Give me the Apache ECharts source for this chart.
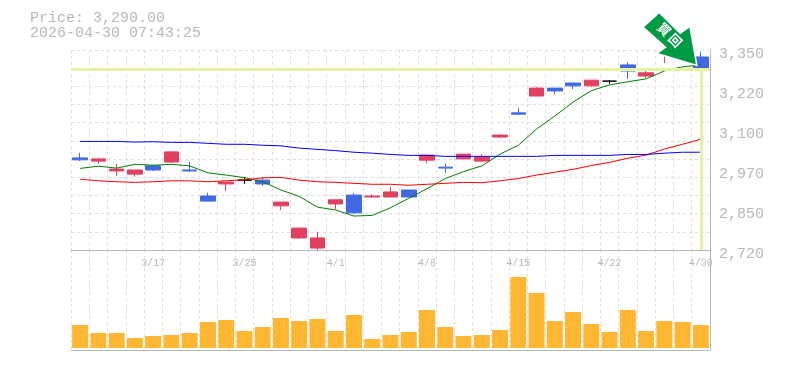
<!DOCTYPE html>
<html><head><meta charset="utf-8">
<style>html,body{margin:0;padding:0;background:#fff}#c{width:785px;height:370px}</style>
<script src="https://cdn.jsdelivr.net/npm/echarts@6/dist/echarts.min.js"></script></head>
<body><div id="c"></div><script>
const dates=["3/11","3/12","3/13","3/16","3/17","3/18","3/19","3/23","3/24","3/25","3/26","3/27","3/30","3/31","4/1","4/2","4/3","4/6","4/7","4/8","4/9","4/10","4/13","4/14","4/15","4/16","4/17","4/20","4/21","4/22","4/23","4/24","4/27","4/28","4/30"];
const labelledDates=["3/17","3/25","4/1","4/8","4/15","4/22","4/30"];
const priceTicks=["2,720","2,850","2,970","3,100","3,220","3,350"];
const candles=[[3010,3004,3000,3026],[3000,3007,2992,3010],[2969,2975,2954,2991],[2959,2972,2951,2972],[2985,2972,2969,2988],[2997,3029,2997,3029],[2972,2969,2966,2997],[2890,2874,2874,2900],[2928,2934,2906,2934],[2940,2940,2928,2950],[2940,2928,2922,2950],[2859,2871,2846,2871],[2758,2789,2755,2789],[2726,2758,2720,2777],[2865,2878,2849,2878],[2893,2837,2833,2900],[2887,2890,2884,2896],[2887,2903,2887,2918],[2909,2887,2887,2909],[3003,3019,2994,3019],[2981,2978,2963,2991],[3007,3022,3007,3022],[3000,3013,2997,3022],[3076,3082,3073,3085],[3152,3148,3145,3167],[3205,3230,3205,3233],[3230,3221,3211,3230],[3246,3237,3227,3246],[3237,3255,3233,3255],[3252,3252,3243,3255],[3303,3284,3259,3312],[3268,3278,3262,3287],[3338,3341,3309,3347],[3325,3344,3320,3350],[3328,3290,3285,3345]];
const maShort=[2977,2984,2978,2990,2987,2990,2985,2963,2956,2948,2935,2909,2889,2855,2846,2827,2829,2853,2883,2913,2945,2967,2985,3022,3050,3101,3142,3186,3222,3240,3250,3259,3284,3297,3303];
const maMid=[2943,2938,2935,2933,2935,2938,2938,2935,2938,2941,2947,2949,2940,2935,2933,2930,2927,2927,2924,2927,2930,2933,2932,2938,2945,2956,2965,2974,2986,2996,3009,3019,3038,3053,3069];
const maLong=[3062,3062,3062,3060,3061,3059,3059,3056,3053,3053,3050,3048,3041,3037,3033,3028,3025,3021,3018,3018,3015,3015,3015,3015,3015,3015,3018,3018,3018,3018,3021,3021,3025,3028,3028];
const volume=[23,15,15,10,12,13,15,26,28,17,21,30,27,29,17,33,9,13,16,38,21,12,13,18,71,55,27,36,24,16,38,17,27,26,23];
const lastPrice=3290;
const lastIndex=dates.length-1;
const priceMin=2720,priceMax=3350;
const grey='#b8b8b8',gridC='#dddddd',mono='"Liberation Mono",monospace';
const split={show:true,lineStyle:{color:gridC,type:[3,3],width:1}};
const arrow='path://M660 14 L644.3 28 L666 47.3 L657.7 53.3 L696 65 L689.3 27.3 L680 34 Z';
const lineS=(name,data,color)=>({name,type:'line',data,xAxisIndex:0,yAxisIndex:0,symbol:'none',smooth:false,animation:false,z:3,lineStyle:{color,width:1},itemStyle:{color}});
const chart=echarts.init(document.getElementById('c'),null,{renderer:'canvas'});
chart.setOption({
 animation:false,backgroundColor:'#fff',
 title:{text:'Price: 3,290.00\n2026-04-30 07:43:25',left:25,top:6,textStyle:{fontFamily:mono,fontSize:15,fontWeight:'normal',color:grey,lineHeight:15}},
 grid:[{left:71,top:50,width:639,height:200},{left:71,top:250,width:639,height:100}],
 xAxis:[
  {type:'category',gridIndex:0,data:dates,boundaryGap:true,axisTick:{show:false},axisLine:{onZero:false,lineStyle:{color:grey,width:1}},splitLine:Object.assign({interval:0},split),
   axisLabel:{interval:(i,v)=>labelledDates.includes(v),fontFamily:mono,fontSize:10,color:grey,margin:8,hideOverlap:false}},
  {type:'category',gridIndex:1,data:dates,boundaryGap:true,axisTick:{show:false},axisLabel:{show:false},axisLine:{onZero:false,lineStyle:{color:grey,width:1}},splitLine:Object.assign({interval:0},split)}
 ],
 yAxis:[
  {type:'value',gridIndex:0,min:priceMin,max:priceMax,show:false,splitLine:{show:false}},
  {type:'value',gridIndex:0,min:0,max:11,interval:1,axisLine:{show:false},axisTick:{show:false},axisLabel:{show:false},splitLine:split},
  {type:'category',gridIndex:0,position:'right',data:priceTicks,boundaryGap:false,axisTick:{show:false},axisLine:{show:true,lineStyle:{color:grey,width:1}},splitLine:{show:false},
   axisLabel:{fontFamily:mono,fontSize:15,color:grey,margin:9,verticalAlign:'top',lineHeight:8,interval:0}},
  {type:'value',gridIndex:1,min:-2,max:98,position:'right',axisTick:{show:false},axisLabel:{show:false},splitLine:{show:false},axisLine:{show:true,lineStyle:{color:grey,width:1}}}
 ],
 series:[
  {name:'guide',type:'line',data:[],xAxisIndex:0,yAxisIndex:0,z:1,silent:true,
   markLine:{silent:true,symbol:'none',label:{show:false},animation:false,lineStyle:{color:'#e2f3a4',width:3,type:'solid'},
    data:[{yAxis:lastPrice},[{coord:[lastIndex,lastPrice]},{coord:[lastIndex,priceMin]}]]}},
  {name:'price',type:'candlestick',data:candles,xAxisIndex:0,yAxisIndex:0,barWidth:15,z:2,
   itemStyle:{color:'#e24060',borderColor:'#e24060',color0:'#4169e1',borderColor0:'#4169e1',borderColorDoji:'#000000',borderWidth:1},
   markPoint:{silent:true,z:10,animation:false,data:[{coord:[lastIndex,lastPrice],symbol:arrow,symbolSize:[54,53],symbolKeepAspect:false,symbolOffset:[-31,-30],
     itemStyle:{color:'#009944',borderColor:'#ffffff',borderWidth:1.5},
     label:{show:true,formatter:'買\u2009回',position:'inside',rotate:-45,offset:[-3,-3],color:'#fff',fontSize:13,fontWeight:'bold',fontFamily:'"Noto Sans CJK JP"'}}]}},
  lineS('ma short',maShort,'#008000'),lineS('ma mid',maMid,'#ff0000'),lineS('ma long',maLong,'#0000ff'),
  {name:'volume',type:'bar',data:volume,xAxisIndex:1,yAxisIndex:3,barWidth:16,itemStyle:{color:'#ffb733'}}
 ]
});
</script></body></html>
